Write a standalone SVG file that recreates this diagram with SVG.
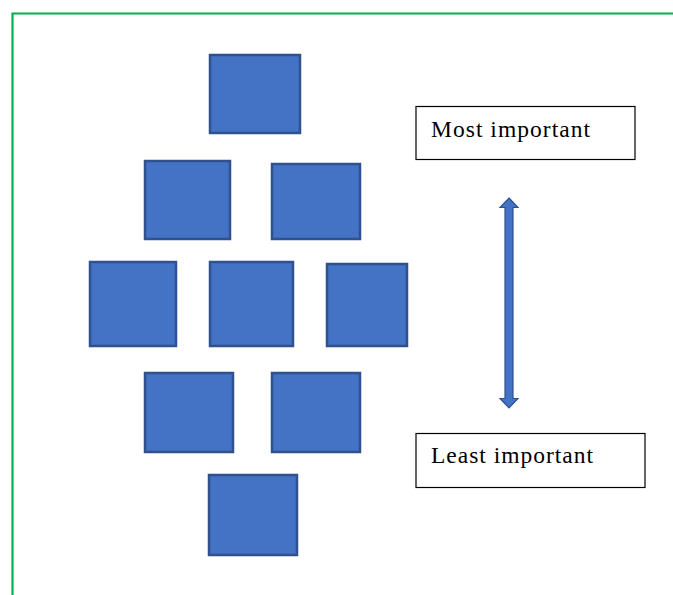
<svg xmlns="http://www.w3.org/2000/svg" width="673" height="595" viewBox="0 0 673 595">
<style>
.sq{fill:#4472C4;stroke:#2F528F;stroke-width:2.5}
.lbl{fill:#fff;stroke:#000;stroke-width:1.2}
.t{font-family:"Liberation Serif","Times New Roman",serif;font-size:23.5px;fill:#000}
</style>
<rect width="673" height="595" fill="#fff"/>
<path d="M12.5 595 V13.5 H673" fill="none" stroke="#00B050" stroke-width="2.2"/>
<g id="n1"><rect class="sq" x="210" y="55" width="90" height="78"/></g>
<g id="n2"><rect class="sq" x="145" y="161" width="85" height="78"/></g>
<g id="n3"><rect class="sq" x="272" y="164" width="88" height="75"/></g>
<g id="n4"><rect class="sq" x="90" y="262" width="86" height="84"/></g>
<g id="n5"><rect class="sq" x="210" y="262" width="83" height="84"/></g>
<g id="n6"><rect class="sq" x="327" y="264" width="80" height="82"/></g>
<g id="n7"><rect class="sq" x="145" y="373" width="88" height="79"/></g>
<g id="n8"><rect class="sq" x="272" y="373" width="88" height="79"/></g>
<g id="n9"><rect class="sq" x="209" y="475" width="88" height="80"/></g>
<g id="most"><rect class="lbl" x="416" y="106.5" width="219" height="53"/><text class="t" x="431" y="137" textLength="159" lengthAdjust="spacing">Most important</text></g>
<g id="least"><rect class="lbl" x="416" y="433.5" width="229" height="54"/><text class="t" x="431" y="463" textLength="162" lengthAdjust="spacing">Least important</text></g>
<g id="connectors">
<path d="M509 198 L518 207.5 L513 207.5 L513 398.5 L518 398.5 L509 408 L500 398.5 L505 398.5 L505 207.5 L500 207.5 Z" fill="#4472C4" stroke="#2F528F" stroke-width="1.2" stroke-linejoin="miter"/>
</g>
</svg>
